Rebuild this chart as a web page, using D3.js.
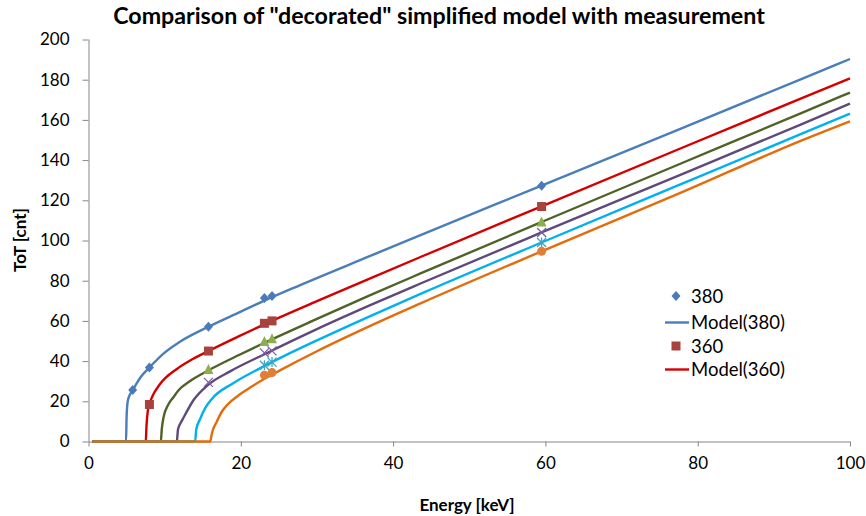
<!DOCTYPE html>
<html>
<head>
<meta charset="utf-8">
<script src="https://cdn.jsdelivr.net/npm/d3@7/dist/d3.min.js"></script>
<style>
  html, body { margin: 0; padding: 0; background: #fff; }
  svg { display: block; font-family: Lato, "Open Sans", sans-serif; }
</style>
</head>
<body>
<svg id="chart" width="866" height="516"></svg>
<script>
// ---------------- data ----------------
const title = 'Comparison of "decorated" simplified model with measurement';
const xTitle = "Energy [keV]";
const yTitle = "ToT [cnt]";
const xTicks = [0, 20, 40, 60, 80, 100];
const yTicks = [0, 20, 40, 60, 80, 100, 120, 140, 160, 180, 200];

const seriesNames = ["380", "360", "340", "320", "300", "280"];

// measured points: energy / ToT
const meas380E = [5.8, 8.0, 15.75, 23.1, 24.1, 59.5];
const meas380T = [25.6, 36.8, 57.1, 71.4, 72.4, 127.3];
const meas360E = [8.0, 15.75, 23.1, 24.1, 59.5];
const meas360T = [18.4, 45.0, 58.8, 60.0, 116.9];
const meas340E = [15.75, 23.1, 24.1, 59.5];
const meas340T = [35.8, 49.8, 51.1, 109.2];
const meas320E = [15.75, 23.1, 24.1, 59.5];
const meas320T = [29.4, 44.1, 45.1, 104.0];
const meas300E = [23.1, 24.1, 59.5];
const meas300T = [37.9, 39.5, 99.0];
const meas280E = [23.1, 24.1, 59.5];
const meas280T = [33.0, 34.3, 94.6];

// model curves: energy / ToT
const model380E = [0.5, 4.93, 5.0, 5.15, 5.4, 5.81, 6.34, 6.77, 8.0, 10, 12, 15.75, 20, 23.1, 27.8, 37, 43.6, 59.5, 77.8, 93.6, 100];
const model380T = [0, 0, 12, 20, 23, 25.6, 29, 31.6, 36.8, 44.2, 49.6, 57.1, 64.6, 70.1, 77.8, 92.3, 102.7, 127.3, 155.7, 180.3, 190.3];
const model360E = [0.5, 7.52, 7.62, 7.78, 8.0, 8.32, 9.4, 11.6, 13.35, 15.75, 19.5, 23.1, 30, 37, 43.6, 59.5, 77.8, 93.6, 100];
const model360T = [0, 0, 8, 15, 18.4, 21.9, 28.6, 36.1, 40.3, 45.0, 51.9, 58.3, 69.8, 81.2, 91.8, 117.0, 145.9, 170.7, 180.7];
const model340E = [0.5, 9.5, 9.62, 9.84, 10.5, 11.15, 11.8, 13.35, 15.75, 19.9, 23.1, 30, 37, 43.6, 59.5, 77.8, 93.6, 100];
const model340T = [0, 0, 6, 11.8, 18.5, 22.0, 25.4, 30.1, 35.4, 43.3, 49.1, 61.0, 72.8, 83.6, 109.2, 138.3, 163.4, 173.6];
const model320E = [0.5, 11.6, 11.75, 12.1, 12.47, 13.78, 15.75, 18.6, 23.1, 30, 37, 43.6, 59.5, 77.8, 93.6, 100];
const model320T = [0, 0, 6, 9.2, 11.8, 20.5, 28.3, 34.9, 43.4, 55.9, 67.8, 78.6, 104.0, 132.8, 157.8, 168.1];
const model300E = [0.5, 14.0, 14.15, 14.66, 15.3, 16.2, 19, 22.55, 25.2, 30, 37, 43.6, 59.5, 77.8, 93.6, 100];
const model300T = [0, 0, 6, 11.2, 16.5, 21.2, 29.0, 36.5, 41.6, 50.3, 62.4, 73.4, 99.0, 128.0, 153.0, 163.1];
const model280E = [0.5, 15.98, 16.2, 16.86, 17.5, 18.17, 19.9, 20.8, 23.4, 25.2, 30, 37, 43.6, 59.5, 77.8, 93.6, 100];
const model280T = [0, 0, 4, 10, 14.8, 18, 23.5, 25.8, 31.8, 35.5, 44.9, 57.5, 68.7, 94.6, 123.8, 149.7, 159.3];

// ---------------- styling ----------------
const lineColors = ["#4A7EBB", "#D40000", "#4F6228", "#5F497A", "#00B0F0", "#E46C0A"];
const markerColors = ["#4A7AB8", "#A8423F", "#8DAE4F", "#7B5E9E", "#3FA6C2", "#E27E35"];
const markerShapes = ["diamond", "square", "triangle", "x", "star", "circle"];

const measE = [meas380E, meas360E, meas340E, meas320E, meas300E, meas280E];
const measT = [meas380T, meas360T, meas340T, meas320T, meas300T, meas280T];
const modelE = [model380E, model360E, model340E, model320E, model300E, model280E];
const modelT = [model380T, model360T, model340T, model320T, model300T, model280T];

const svg = d3.select("#chart");
const x = d3.scaleLinear().domain([0, 100]).range([88.5, 850]);
const y = d3.scaleLinear().domain([0, 200]).range([441.5, 39.5]);
const axisColor = "#868686";

// axes
const gx = svg.append("g").attr("transform", `translate(0,${y(0)})`)
  .call(d3.axisBottom(x).tickValues(xTicks).tickSize(5).tickPadding(10).tickFormat(d3.format("d")));
const gy = svg.append("g").attr("transform", `translate(${x(0)},0)`)
  .call(d3.axisLeft(y).tickValues(yTicks).tickSize(6).tickPadding(13).tickFormat(d3.format("d")));
[gx, gy].forEach(g => {
  g.select(".domain").attr("stroke", axisColor).attr("stroke-width", 1);
  g.selectAll(".tick line").attr("stroke", axisColor);
  g.selectAll(".tick text").attr("fill", "#000").style("font-size", "17px").style("font-family", "Lato, sans-serif");
});
gy.select(".domain").attr("d", `M0.5,${y(200)}V${y(0)}`);
gx.select(".domain").attr("d", `M${x(0)},0.5H${x(100)}`);

// model lines
const line = d3.line().x(d => x(d[0])).y(d => y(d[1])).curve(d3.curveMonotoneX);
modelE.forEach((es, i) => {
  const pts = es.map((e, k) => [e, modelT[i][k]]);
  svg.append("path").datum(pts)
    .attr("d", line)
    .attr("fill", "none")
    .attr("stroke", lineColors[i])
    .attr("stroke-width", 2.4)
    .attr("stroke-linejoin", "round");
});

// markers
function drawMarker(g, shape, cx, cy, color) {
  const s = 4.5;
  if (shape === "diamond") {
    g.append("path").attr("d", `M${cx},${cy - s - 0.5}L${cx + s},${cy}L${cx},${cy + s + 0.5}L${cx - s},${cy}Z`).attr("fill", color);
  } else if (shape === "square") {
    g.append("rect").attr("x", cx - s).attr("y", cy - s).attr("width", 2 * s).attr("height", 2 * s).attr("fill", color);
  } else if (shape === "triangle") {
    g.append("path").attr("d", `M${cx},${cy - s - 1}L${cx + s + 0.5},${cy + s}L${cx - s - 0.5},${cy + s}Z`).attr("fill", color);
  } else if (shape === "x") {
    g.append("path").attr("d", `M${cx - s},${cy - s}L${cx + s},${cy + s}M${cx - s},${cy + s}L${cx + s},${cy - s}`)
      .attr("stroke", color).attr("stroke-width", 1.3).attr("fill", "none");
  } else if (shape === "star") {
    g.append("path").attr("d", `M${cx - s},${cy - s}L${cx + s},${cy + s}M${cx - s},${cy + s}L${cx + s},${cy - s}M${cx},${cy - s - 0.5}L${cx},${cy + s + 0.5}`)
      .attr("stroke", color).attr("stroke-width", 1.3).attr("fill", "none");
  } else if (shape === "circle") {
    g.append("circle").attr("cx", cx).attr("cy", cy).attr("r", s).attr("fill", color);
  }
}
const gm = svg.append("g");
measE.forEach((es, i) => {
  es.forEach((e, k) => drawMarker(gm, markerShapes[i], x(e), y(measT[i][k]), markerColors[i]));
});

// titles
const t = svg.append("text").attr("x", 439).attr("y", 24)
  .attr("text-anchor", "middle").style("font-weight", "bold").style("font-size", "20px")
  .attr("fill", "#000").text(title);
const tl = t.node().getComputedTextLength();
if (tl > 0) t.style("font-size", (20 * 652 / tl).toFixed(2) + "px");

svg.append("text").attr("x", 467).attr("y", 511)
  .attr("text-anchor", "middle").style("font-weight", "bold").style("font-size", "17px")
  .attr("fill", "#000").text(xTitle);
svg.append("text").attr("transform", "translate(26,240) rotate(-90)")
  .attr("text-anchor", "middle").style("font-weight", "bold").style("font-size", "17px")
  .attr("fill", "#000").text(yTitle);

// legend (only the visible entries)
const lg = svg.append("g");
const legendRows = [
  {type: "marker", idx: 0, label: seriesNames[0], cy: 296},
  {type: "line", idx: 0, label: "Model(" + seriesNames[0] + ")", cy: 322.5},
  {type: "marker", idx: 1, label: seriesNames[1], cy: 346},
  {type: "line", idx: 1, label: "Model(" + seriesNames[1] + ")", cy: 369.5}
];
legendRows.forEach(r => {
  if (r.type === "marker") {
    drawMarker(lg, markerShapes[r.idx], 676, r.cy, markerColors[r.idx]);
  } else {
    lg.append("line").attr("x1", 665).attr("x2", 689).attr("y1", r.cy).attr("y2", r.cy)
      .attr("stroke", lineColors[r.idx]).attr("stroke-width", 2.4);
  }
  lg.append("text").attr("x", 691).attr("y", r.cy).attr("dy", "0.36em")
    .style("font-size", "18.5px").attr("fill", "#000").text(r.label);
});
</script>
</body>
</html>
